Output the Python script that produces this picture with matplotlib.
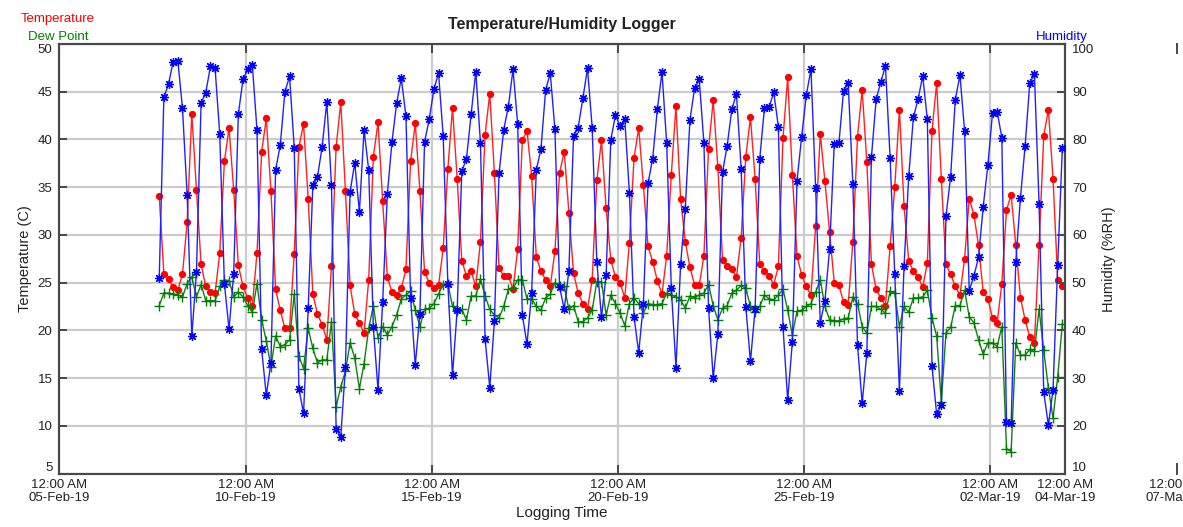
import matplotlib
matplotlib.use("Agg")
import matplotlib.pyplot as plt
import matplotlib.dates as mdates
import pandas as pd
from datetime import datetime

plt.rcParams["font.family"] = ["Liberation Sans", "DejaVu Sans"]

# logger readings, every 3 hours from 07-Feb-19 16:20
temperature = [
    34.1, 25.9, 25.4, 24.5, 24.2, 25.9, 31.3, 42.7, 34.7, 26.9,
    24.6, 24.0, 23.9, 28.1, 37.7, 41.2, 34.7, 26.8, 24.6, 23.4,
    22.5, 28.1, 38.7, 42.2, 34.6, 24.3, 22.1, 20.2, 20.2, 28.0,
    39.2, 41.6, 33.8, 23.8, 21.7, 20.6, 19.0, 26.7, 39.2, 43.9,
    34.6, 24.7, 21.7, 20.8, 19.7, 25.3, 38.2, 41.8, 33.5, 25.6,
    24.0, 23.7, 24.4, 26.4, 37.7, 41.7, 34.6, 26.1, 25.0, 24.4,
    24.7, 28.6, 36.9, 43.3, 35.9, 27.3, 25.7, 26.2, 24.6, 29.3,
    40.5, 44.8, 36.5, 26.5, 25.7, 25.7, 24.3, 28.5, 39.9, 40.9,
    36.2, 27.7, 26.2, 25.3, 24.6, 28.3, 36.5, 38.7, 32.3, 26.0,
    23.9, 22.8, 22.2, 25.3, 35.7, 39.9, 32.8, 27.4, 25.6, 25.0,
    23.4, 29.2, 38.1, 41.2, 35.2, 28.8, 27.2, 25.2, 23.8, 27.8,
    36.3, 43.5, 33.8, 29.3, 26.6, 24.8, 24.7, 27.8, 39.0, 44.1,
    37.1, 27.4, 26.7, 26.4, 25.6, 29.7, 38.2, 42.3, 35.9, 26.9,
    26.2, 25.7, 24.8, 26.7, 40.2, 46.5, 36.3, 27.8, 25.8, 24.6,
    23.7, 30.9, 40.6, 35.6, 30.3, 25.0, 24.7, 23.0, 22.7, 29.3,
    40.3, 45.2, 37.6, 26.9, 24.3, 23.4, 22.6, 28.8, 35.0, 43.1,
    33.0, 27.3, 26.2, 25.6, 24.5, 27.1, 40.9, 45.9, 35.9, 26.9,
    25.9, 24.6, 23.7, 27.5, 33.8, 32.1, 28.9, 24.0, 23.3, 21.3,
    20.8, 24.9, 32.6, 34.2, 28.9, 23.4, 21.1, 19.3, 18.7, 28.9,
    40.4, 43.1, 35.9, 25.3, 24.6,
]

dew_point = [
    22.6, 23.9, 23.9, 23.8, 23.7, 23.5, 24.9, 25.6, 23.5, 24.8,
    23.1, 23.1, 23.1, 24.6, 25.3, 25.2, 23.5, 24.0, 23.5, 22.6,
    21.9, 24.9, 21.1, 18.9, 16.2, 19.4, 18.3, 18.5, 19.0, 23.8,
    17.3, 16.0, 20.2, 18.1, 16.6, 16.9, 16.9, 20.9, 12.0, 14.1,
    15.7, 18.7, 17.1, 13.9, 16.5, 20.2, 22.6, 19.2, 20.4, 19.5,
    20.4, 21.6, 23.3, 23.7, 24.1, 22.1, 20.4, 22.2, 22.3, 22.8,
    23.8, 24.8, 24.9, 22.5, 22.0, 22.2, 21.1, 23.6, 23.6, 25.4,
    23.6, 22.2, 21.6, 21.3, 22.5, 24.3, 24.4, 25.3, 25.3, 23.3,
    23.3, 22.5, 22.1, 23.4, 23.8, 25.0, 24.6, 24.6, 22.2, 22.6,
    20.9, 20.9, 21.3, 22.1, 25.1, 25.1, 21.6, 23.7, 22.8, 21.8,
    20.5, 22.8, 23.4, 22.8, 21.8, 22.8, 22.7, 22.7, 22.8, 23.9,
    23.7, 23.5, 23.2, 22.3, 23.6, 23.4, 23.7, 23.9, 24.8, 22.6,
    21.1, 22.3, 22.6, 23.9, 24.2, 24.7, 24.4, 22.5, 21.9, 22.5,
    23.7, 23.3, 23.2, 23.7, 24.3, 22.1, 19.5, 22.0, 22.1, 22.5,
    22.8, 24.0, 25.3, 22.5, 21.1, 21.0, 21.0, 21.2, 21.3, 23.5,
    22.8, 20.4, 19.7, 22.5, 22.5, 22.2, 21.8, 24.1, 23.9, 20.4,
    22.5, 21.9, 23.4, 23.4, 23.5, 24.2, 21.3, 19.4, 12.5, 19.7,
    20.3, 22.6, 22.6, 24.2, 21.4, 20.8, 19.0, 17.5, 18.7, 18.7,
    18.3, 20.4, 7.6, 7.3, 18.7, 17.4, 17.4, 18.0, 17.8, 22.2,
    17.9, 14.0, 10.8, 15.1, 20.7,
]

humidity = [
    50.9, 88.8, 91.6, 96.3, 96.5, 86.5, 68.3, 38.8, 52.3, 87.7,
    89.8, 95.3, 94.9, 81.1, 49.8, 40.2, 51.9, 85.3, 92.6, 94.7,
    95.6, 82.0, 36.0, 26.4, 33.2, 73.6, 78.8, 90.0, 93.2, 78.3,
    27.8, 22.6, 44.6, 70.4, 72.2, 78.5, 87.9, 70.4, 19.4, 17.7,
    32.3, 69.0, 75.1, 64.8, 82.0, 73.6, 40.6, 27.5, 46.0, 68.5,
    79.5, 87.6, 92.8, 84.9, 46.7, 32.7, 43.5, 79.5, 84.2, 90.5,
    93.9, 80.7, 49.8, 30.6, 44.2, 73.4, 75.9, 85.3, 94.2, 79.3,
    38.2, 28.0, 41.9, 72.9, 82.0, 86.9, 94.7, 83.2, 43.2, 37.1,
    47.9, 73.6, 78.0, 90.3, 93.9, 82.1, 49.1, 44.4, 52.5, 80.8,
    82.5, 88.6, 94.9, 82.5, 54.4, 42.7, 51.6, 79.9, 85.1, 82.8,
    84.3, 68.8, 42.8, 35.3, 45.6, 70.8, 76.0, 86.3, 94.1, 79.3,
    48.8, 32.2, 53.8, 65.5, 84.1, 90.7, 92.6, 79.3, 44.7, 30.0,
    39.3, 73.1, 78.7, 86.3, 89.5, 73.9, 44.9, 33.5, 44.4, 76.0,
    86.5, 86.7, 89.9, 82.7, 40.6, 25.4, 37.6, 71.3, 80.6, 89.3,
    94.7, 69.9, 41.6, 46.2, 57.0, 79.0, 79.2, 90.2, 91.8, 70.6,
    36.9, 24.7, 35.2, 76.4, 88.4, 92.0, 95.4, 76.2, 51.9, 27.3,
    53.5, 72.3, 84.6, 88.4, 93.3, 84.2, 32.5, 22.4, 24.3, 63.9,
    72.2, 88.3, 93.5, 81.8, 48.3, 51.4, 55.3, 65.9, 74.6, 85.6,
    85.8, 80.4, 20.8, 20.5, 54.4, 67.8, 78.6, 91.8, 93.7, 66.5,
    27.1, 20.1, 27.6, 53.7, 78.3,
]

tick_dates = ["2019-02-05", "2019-02-10", "2019-02-15", "2019-02-20",
              "2019-02-25", "2019-03-02", "2019-03-04"]

times = pd.date_range("2019-02-07 16:20", periods=len(temperature), freq="3h")

fig = plt.figure(figsize=(11.83, 5.27), dpi=100)
ax = fig.add_axes([0.0502, 0.1015, 0.8500, 0.8150])
ax2 = ax.twinx()

grid_c = "#cccccc"
spine_c = "#484848"
text_c = "#222222"

ax.plot(times, temperature, color="#ff2020", lw=1, marker="o", ms=4.2,
        mfc="red", mec="red", zorder=3)
ax.plot(times, dew_point, color="#108010", lw=1, marker="+", ms=6.5,
        mew=1.0, mec="#008000", zorder=3)
ax2.plot(times, humidity, color="#2020ff", lw=1, marker=(8, 2, 0), ms=6.5,
         mew=0.9, mec="blue", zorder=3)

ax.set_xlim(datetime(2019, 2, 5), datetime(2019, 3, 4))
ax.set_ylim(5, 50)
ax2.set_ylim(10, 100)
ax.set_yticks(range(5, 51, 5))
ax2.set_yticks(range(10, 101, 10))

ticks = pd.to_datetime(tick_dates)
ax.set_xticks(ticks)
ax.set_xticklabels([t.strftime("%I:%M %p\n%d-%b-%y") for t in ticks])
for lbl in ax.get_xticklabels():
    lbl.set_linespacing(1.05)

ax.grid(True, color=grid_c, lw=1.6, zorder=0)
ax.set_axisbelow(True)

ax.tick_params(axis="x", direction="in", length=6.5, width=1.4, color=spine_c,
               top=True, labelsize=9.5, labelcolor=text_c, pad=4)
ax.tick_params(axis="y", direction="in", length=6, width=1.4, color=spine_c,
               labelsize=9.5, labelcolor=text_c, pad=5)
ax2.tick_params(axis="y", direction="in", length=6, width=1.4, color=spine_c,
                labelsize=9.5, labelcolor=text_c, pad=5)

# end labels sit inside the frame, like the logger software does
fig.canvas.draw()
for a in (ax, ax2):
    labels = a.get_yticklabels()
    labels[0].set_verticalalignment("bottom")
    labels[-1].set_verticalalignment("top")

for a in (ax, ax2):
    for s in a.spines.values():
        s.set_color(spine_c)
        s.set_linewidth(1.5)

# axis labels
ax.set_ylabel("Temperature (C)", fontsize=10.5, color=text_c, labelpad=4)
ax2.set_ylabel("Humidity (%RH)", fontsize=10.5, color=text_c, labelpad=6)
ax.set_xlabel("Logging Time", fontsize=11, color=text_c, labelpad=2)

# the extra tick that sits past the right edge
x_out = mdates.date2num(datetime(2019, 3, 7))
trans = ax.get_xaxis_transform()
tl = 6.5 * 100 / 72 / (0.815 * 527)
ax.plot([x_out, x_out], [0, tl], color=spine_c, lw=1.4, transform=trans, clip_on=False)
ax.plot([x_out, x_out], [1 - tl, 1], color=spine_c, lw=1.4, transform=trans, clip_on=False)
ax.text(x_out, -4 * 100 / 72 / (0.815 * 527), "12:00 AM\n07-Mar-19", transform=trans,
        ha="center", va="top", fontsize=9.5, color=text_c, linespacing=1.05, clip_on=False)

fig.text(562 / 1183, 1 - 25 / 527, "Temperature/Humidity Logger", ha="center", va="center",
         fontsize=11.5, fontweight="bold", color=text_c)
fig.text(58 / 1183, 1 - 19 / 527, "Temperature", ha="center", va="center",
         fontsize=9.5, color="red")
fig.text(58 / 1183, 1 - 36.5 / 527, "Dew Point", ha="center", va="center",
         fontsize=9.5, color="green")
fig.text(1062 / 1183, 1 - 37 / 527, "Humidity", ha="center", va="center",
         fontsize=9.5, color="blue")

fig.savefig("out.png", dpi=100)
